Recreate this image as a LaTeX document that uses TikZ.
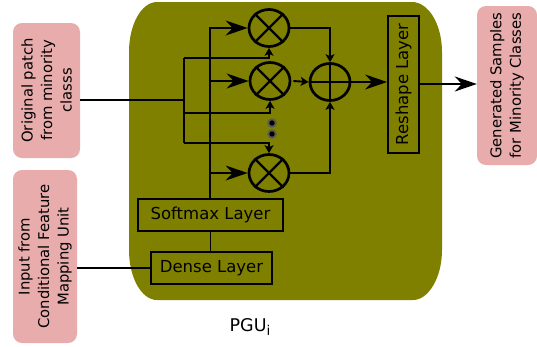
\documentclass[tikz,border=0pt]{standalone}
\usepackage{fontspec}
\setmainfont{DejaVu Sans}
\usetikzlibrary{shapes.geometric,arrows.meta,calc}
\definecolor{olivebg}{RGB}{128,128,0}
\definecolor{pinkbox}{RGB}{232,172,172}
\definecolor{dotgray}{RGB}{90,90,90}
\begin{document}
\begin{tikzpicture}[x=1pt,y=-1pt,
  pinknode/.style={fill=pinkbox,rounded corners=9pt,rotate=90,align=center,inner sep=0pt,
     font=\fontsize{14.8}{19.5}\selectfont},
  layerbox/.style={draw,line width=1.8pt,inner sep=0pt,font=\fontsize{16.5}{19}\selectfont},
  mult/.style={ellipse,draw,line width=2.7pt,minimum width=40pt,minimum height=37pt,inner sep=0pt},
  wire/.style={line width=1.9pt},
  bigtip/.style={-{Stealth[length=22pt,width=15pt,inset=7pt]}},
  smalltip/.style={-{Stealth[length=8pt,width=9pt,inset=2pt]}},
  dotnode/.style={circle,fill=dotgray,minimum size=9.5pt,inner sep=0pt}
]
\useasboundingbox (0,0) rectangle (537,346);
% big olive container (elliptical corners)
\fill[olivebg] (157,2) -- (412,2)
  .. controls (428.5,2) and (442,24.4) .. (442,52) -- (442,250)
  .. controls (442,277.6) and (428.5,300) .. (413,300) -- (157,300)
  .. controls (141.5,300) and (129,277.6) .. (129,250) -- (129,52)
  .. controls (129,24.4) and (141.5,2) .. (157,2) -- cycle;

% pink boxes
\node[pinknode,minimum width=135pt,minimum height=67pt] (orig) at (46.5,90.5)
  {Original patch\\from minority\\classs};
\node[pinknode,minimum width=173pt,minimum height=64pt] (inp) at (45,256.5)
  {Input from\\Conditional Feature\\Mapping Unit};
\node[pinknode,minimum width=159pt,minimum height=60pt] (gen) at (507,85.5)
  {Generated Samples\\for Minority Classes};

% layers
\node[layerbox,minimum width=145pt,minimum height=32pt] (soft) at (210.5,215) {Softmax Layer};
\node[layerbox,minimum width=121pt,minimum height=32pt] (dense) at (211.5,268) {Dense Layer};
\node[layerbox,rotate=90,minimum width=137pt,minimum height=31pt] (resh) at (403.5,84.5) {Reshape Layer};

% multipliers and adder
\node[mult] (m1) at (269,28) {};
\node[mult] (m2) at (270,81) {};
\node[mult] (m3) at (269,173) {};
\node[mult] (add) at (330,82) {};
\foreach \m in {m1,m2,m3}{
  \draw[line width=2.3pt] (\m.45) -- (\m.225) (\m.135) -- (\m.315);
}
\draw[line width=2.3pt] (add.north) -- (add.south) (add.west) -- (add.east);

% dots
\node[dotnode] (d1) at (272,123) {};
\node[dotnode] (d2) at (272,134) {};
\fill (d1) circle (2.7pt) (d2) circle (2.7pt);

% softmax bus (A)
\draw[wire] (dense.north -| soft.north) -- (soft.south);
\coordinate (atop) at (210,28);
\draw[wire,bigtip] (soft.north -| atop) -- (atop) -- (m1.west);
\draw[wire,bigtip] (atop |- m2.west) -- (m2.west);
\draw[wire,bigtip] (atop |- m3.west) -- (m3.west);

% input bus (B)
\coordinate (btop) at (184,58);
\coordinate (bmid) at (184,100);
\coordinate (b2) at (184,113);
\coordinate (bbot) at (184,143);
\draw[wire] (bmid -| orig.south) -- (bmid);
\draw[wire] (btop) -- (bbot);
\draw[wire,smalltip] (btop) -| (m1.south);
\draw[wire,smalltip] (b2) -| (m2.south);
\draw[wire,smalltip] (bbot) -| (m3.north);

% dense input
\draw[wire] (dense.west) -- (dense.west -| inp.south);

% to adder
\draw[wire,smalltip] (m1.east) -| (add.north);
\draw[wire,smalltip] (m3.east) -| (add.south);
\draw[wire,smalltip] ([xshift=2pt]m2.east) -- (add.west);

% to reshape and output
\draw[wire,bigtip] (add.east) -- (add.east -| resh.north);
\draw[wire,bigtip] ([yshift=0.5pt]resh.south) -- ([yshift=0.5pt]resh.south -| gen.north);

% label
\node[font=\fontsize{17.5}{20}\selectfont] (pgu) at (250,327) {PGU\raisebox{-3.5pt}{\fontsize{13.5}{14}\selectfont i}};
\end{tikzpicture}
\end{document}
